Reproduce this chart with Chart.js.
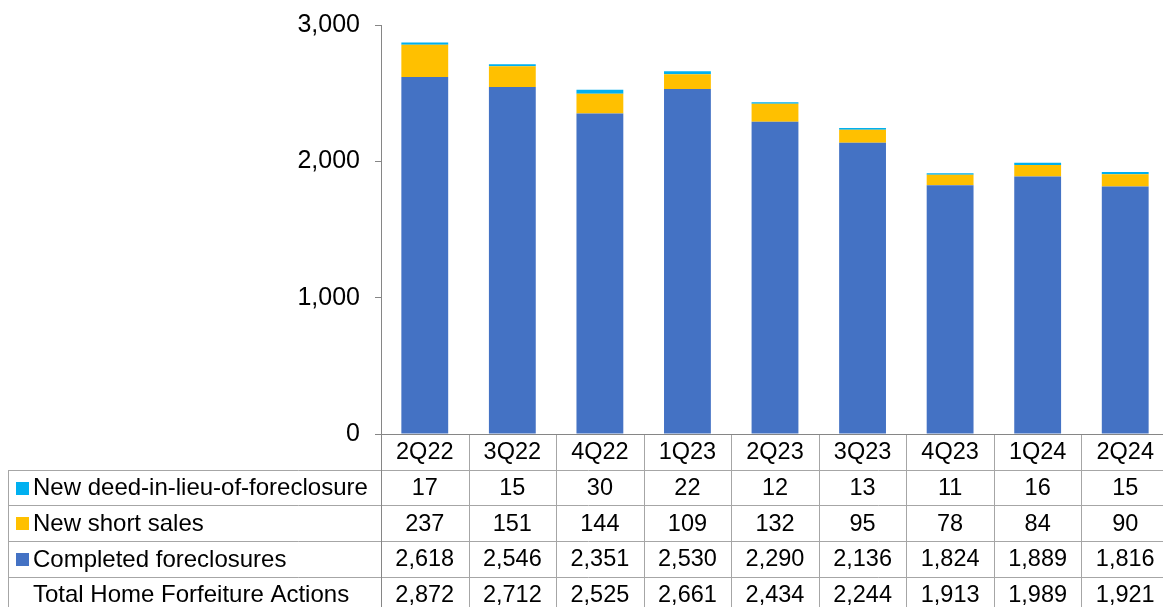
<!DOCTYPE html>
<html lang="en">
<head>
    <meta charset="UTF-8">
    <title>Home Forfeiture Actions</title>
    <script src="https://cdn.jsdelivr.net/npm/chart.js"></script>
    <style>
        html, body {
            margin: 0;
            padding: 0;
            background: #ffffff;
            overflow: hidden;
        }
        /* last column runs a few pixels past the window edge */
        #chartContainer {
            width: 1169px;
            height: 607px;
        }
    </style>
</head>
<body>
    <div id="chartContainer">
        <canvas id="myChart"></canvas>
    </div>

    <script>
        const quarters = ['2Q22', '3Q22', '4Q22', '1Q23', '2Q23', '3Q23', '4Q23', '1Q24', '2Q24'];
        const deedInLieu = [17, 15, 30, 22, 12, 13, 11, 16, 15];
        const shortSales = [237, 151, 144, 109, 132, 95, 78, 84, 90];
        const completedForeclosures = [2618, 2546, 2351, 2530, 2290, 2136, 1824, 1889, 1816];
        const totalActions = [2872, 2712, 2525, 2661, 2434, 2244, 1913, 1989, 1921];
        const yTicks = [0, 1000, 2000, 3000];

        const FONT = '"Liberation Sans", Arial, sans-serif';
        const LINE = '#a6a6a6';
        const AXIS = '#868686';
        const fmt = v => v.toLocaleString('en-US');

        // table rows drawn under the plot, top to bottom
        const tableRows = [
            { label: 'New deed-in-lieu-of-foreclosure', color: '#00b0f0', values: deedInLieu },
            { label: 'New short sales', color: '#ffc000', values: shortSales },
            { label: 'Completed foreclosures', color: '#4472c4', values: completedForeclosures },
            { label: 'Total Home Forfeiture Actions', color: null, values: totalActions }
        ];

        const dataTable = {
            id: 'dataTable',
            afterDraw(chart) {
                const { ctx, chartArea, scales } = chart;
                const x = scales.x;
                const left = 8;
                const top = chartArea.bottom;
                const rowH = 35.7;
                const colW = (chartArea.right - chartArea.left) / quarters.length;

                ctx.save();
                ctx.lineWidth = 1;

                // horizontal lines
                ctx.strokeStyle = LINE;
                const nRows = tableRows.length + 1;
                for (let r = 1; r <= nRows; r++) {
                    const y = Math.round(top + r * rowH) + 0.5;
                    ctx.beginPath();
                    ctx.moveTo(left, y);
                    ctx.lineTo(chartArea.right, y);
                    ctx.stroke();
                }
                // left border of label column
                ctx.beginPath();
                ctx.moveTo(left + 0.5, Math.round(top + rowH) + 0.5);
                ctx.lineTo(left + 0.5, chart.height);
                ctx.stroke();
                // column separators
                for (let c = 1; c <= quarters.length; c++) {
                    const xx = Math.round(chartArea.left + c * colW) + 0.5;
                    ctx.beginPath();
                    ctx.moveTo(xx, top);
                    ctx.lineTo(xx, chart.height);
                    ctx.stroke();
                }
                // category axis line and its continuation down the table
                ctx.strokeStyle = AXIS;
                ctx.beginPath();
                ctx.moveTo(chartArea.left - 6, Math.round(top) + 0.5);
                ctx.lineTo(chartArea.right, Math.round(top) + 0.5);
                ctx.moveTo(Math.round(chartArea.left) + 0.5, top);
                ctx.lineTo(Math.round(chartArea.left) + 0.5, chart.height);
                ctx.stroke();

                ctx.fillStyle = '#000';
                ctx.font = '23.5px ' + FONT;
                ctx.textBaseline = 'middle';
                ctx.textAlign = 'center';
                quarters.forEach((q, i) => {
                    ctx.fillText(q, x.getPixelForValue(i), top + rowH / 2 + 1);
                });

                tableRows.forEach((row, r) => {
                    const cy = top + (r + 1.5) * rowH + 1;
                    if (row.color) {
                        ctx.fillStyle = row.color;
                        ctx.fillRect(16, Math.round(cy - 7), 13, 13);
                    }
                    ctx.fillStyle = '#000';
                    ctx.textAlign = 'left';
                    ctx.font = '24px ' + FONT;
                    ctx.fillText(row.label, 33, cy);
                    ctx.font = '23.5px ' + FONT;
                    ctx.textAlign = 'center';
                    row.values.forEach((v, i) => {
                        ctx.fillText(fmt(v), x.getPixelForValue(i), cy);
                    });
                });
                ctx.restore();
            }
        };

        const ctx = document.getElementById('myChart').getContext('2d');
        const myChart = new Chart(ctx, {
            type: 'bar',
            data: {
                labels: quarters,
                datasets: [
                    {
                        label: 'Completed foreclosures',
                        data: completedForeclosures,
                        backgroundColor: '#4472c4'
                    },
                    {
                        label: 'New short sales',
                        data: shortSales,
                        backgroundColor: '#ffc000'
                    },
                    {
                        label: 'New deed-in-lieu-of-foreclosure',
                        data: deedInLieu,
                        backgroundColor: '#00b0f0'
                    }
                ]
            },
            options: {
                responsive: true,
                maintainAspectRatio: false,
                animation: false,
                layout: {
                    padding: { top: 25, right: 0, bottom: 173, left: 0 }
                },
                datasets: {
                    bar: { categoryPercentage: 1, barPercentage: 0.535 }
                },
                plugins: {
                    legend: { display: false },
                    tooltip: { enabled: false }
                },
                scales: {
                    x: {
                        stacked: true,
                        display: false
                    },
                    y: {
                        stacked: true,
                        min: 0,
                        max: 3000,
                        afterBuildTicks(scale) {
                            scale.ticks = yTicks.map(v => ({ value: v }));
                        },
                        afterFit(scale) {
                            scale.width = 381;
                            scale.paddingTop = 0;
                            scale.paddingBottom = 0;
                        },
                        border: { display: true, color: AXIS, width: 1 },
                        grid: {
                            display: true,
                            drawOnChartArea: false,
                            drawTicks: true,
                            tickLength: 6,
                            color: AXIS
                        },
                        ticks: {
                            color: '#000',
                            padding: 15,
                            font: { family: FONT, size: 25 },
                            callback: v => fmt(v)
                        }
                    }
                }
            },
            plugins: [dataTable]
        });
    </script>
</body>
</html>
